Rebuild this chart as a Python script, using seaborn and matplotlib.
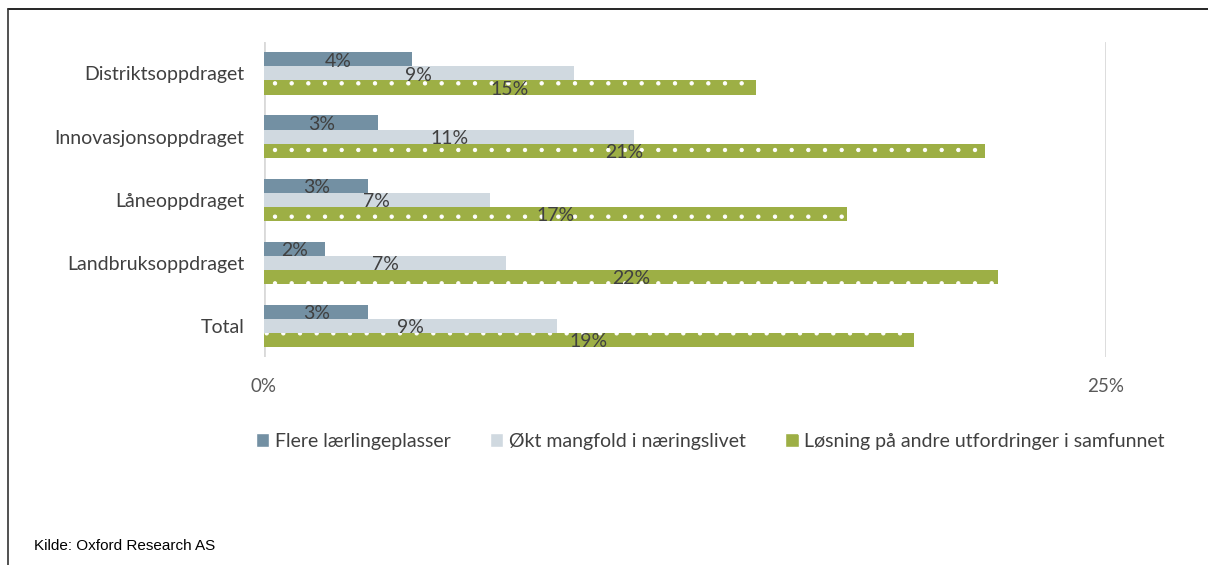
import numpy as np
import pandas as pd
import matplotlib.pyplot as plt
import matplotlib.patches as mpatches
from matplotlib.lines import Line2D
import seaborn as sns

sns.set_theme(style="white")
plt.rcParams["font.family"] = ["Lato", "DejaVu Sans"]
plt.rcParams["hatch.color"] = "white"
plt.rcParams["hatch.linewidth"] = 0.7

# ── Data ────────────────────────────────────────────────────────────────────
categories = ["Distriktsoppdraget", "Innovasjonsoppdraget", "Låneoppdraget",
              "Landbruksoppdraget", "Total"]
series = ["Flere lærlingeplasser", "Økt mangfold i næringslivet",
          "Løsning på andre utfordringer i samfunnet"]
laerling = [4.4, 3.4, 3.1, 1.8, 3.1]
mangfold = [9.2, 11.0, 6.7, 7.2, 8.7]
losning = [14.6, 21.4, 17.3, 21.8, 19.3]

colors = ["#7390A3", "#D0D9E0", "#9DAF45"]

df = pd.DataFrame({
    "Kategori": categories * 3,
    "Serie": [series[0]] * 5 + [series[1]] * 5 + [series[2]] * 5,
    "Andel": laerling + mangfold + losning,
})

# ── Plot ────────────────────────────────────────────────────────────────────
fig = plt.figure(figsize=(12.08, 5.65), dpi=100)
ax = fig.add_axes([0.2185, 0.368, 0.697, 0.5577])

sns.barplot(data=df, y="Kategori", x="Andel", hue="Serie", order=categories,
            hue_order=series, palette=colors, width=0.667, orient="h",
            saturation=1, ax=ax, legend=False, linewidth=0)

for cont, name in zip(ax.containers, series):
    for bar in cont:
        if name == series[2]:
            bar.set_hatch(". ")
        w = bar.get_width()
        ax.text(w / 2, bar.get_y() + bar.get_height() / 2 + 0.03, f"{w:.0f}%",
                ha="center", va="center", fontsize=14, color="#404040")

ax.set_xlim(0, 25)
ax.set_ylim(4.5, -0.5)
ax.set_xticks([0, 25])
ax.set_xticklabels(["0%", "25%"])
ax.set_xlabel("")
ax.set_ylabel("")
ax.grid(axis="x", color="#D9D9D9", linewidth=2)
ax.set_axisbelow(True)
for s in ax.spines.values():
    s.set_visible(False)
ax.tick_params(axis="x", length=0, pad=15, labelsize=13.5, labelcolor="#595959")
ax.tick_params(axis="y", length=0, pad=14, labelsize=14, labelcolor="#404040")

handles = [mpatches.Patch(facecolor=colors[0], label=series[0]),
           mpatches.Patch(facecolor=colors[1], label=series[1]),
           mpatches.Patch(facecolor=colors[2], hatch=". ", label=series[2])]
fig.legend(handles=handles, loc="center", bbox_to_anchor=(0.588, 0.219),
           ncol=3, frameon=False, fontsize=14, handlelength=0.7,
           handleheight=0.7, handletextpad=0.3, columnspacing=2.0,
           labelcolor="#404040")

fig.text(0.028, 0.027, "Kilde: Oxford Research AS", fontsize=11,
         family=["Liberation Sans", "DejaVu Sans"], color="black")

# frame lines
fig.add_artist(Line2D([0.0066, 1.0], [0.984, 0.984], color="black", lw=1.2))
fig.add_artist(Line2D([0.0066, 0.0066], [0.0, 0.984], color="#333333", lw=1.2))

plt.savefig("out.png", dpi=100)
